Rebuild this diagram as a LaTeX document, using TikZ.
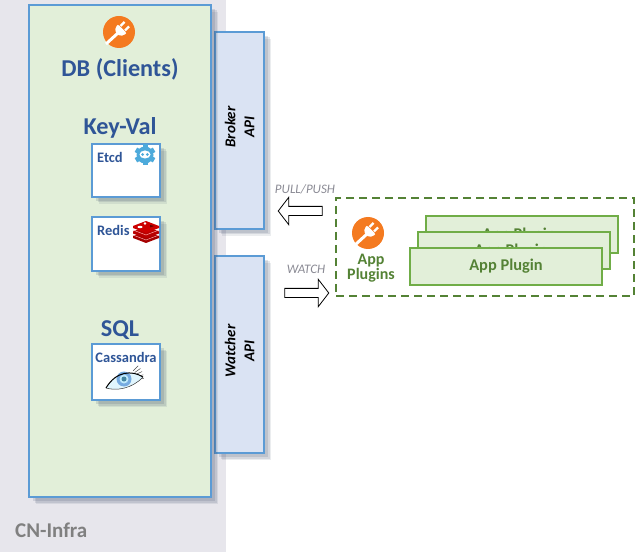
\documentclass[tikz,border=0pt]{standalone}
\usepackage{fontspec}
\setmainfont{Carlito}
\usetikzlibrary{shadows,shapes.arrows}

\definecolor{panelGray}{HTML}{E7E6EC}
\definecolor{boxBlue}{HTML}{5B9BD5}
\definecolor{apiFill}{HTML}{DAE3F3}
\definecolor{dbFill}{HTML}{E2EFD9}
\definecolor{titleBlue}{HTML}{2F5597}
\definecolor{plugOrange}{HTML}{F47A20}
\definecolor{pluginGreen}{HTML}{70AD47}
\definecolor{pluginText}{HTML}{548235}
\definecolor{labelGray}{HTML}{8A8A94}
\definecolor{shadowTone}{HTML}{3A4A66}

\tikzset{
    softShadow/.style={
        drop shadow={shadow xshift=7pt, shadow yshift=-7pt, opacity=.10, fill=shadowTone},
        drop shadow={shadow xshift=5.5pt, shadow yshift=-5.5pt, opacity=.13, fill=shadowTone},
        drop shadow={shadow xshift=4pt, shadow yshift=-4pt, opacity=.15, fill=shadowTone}
    },
    dbBox/.style={draw=boxBlue, line width=2pt, fill=dbFill, anchor=north west, inner sep=0pt, outer sep=0pt, softShadow},
    apiBox/.style={draw=boxBlue, line width=2pt, fill=apiFill, anchor=north west, inner sep=0pt, outer sep=0pt,
        minimum width=49pt, minimum height=197pt, softShadow},
    storeBox/.style={draw=boxBlue, line width=2pt, fill=white, anchor=north west, inner sep=0pt, outer sep=0pt,
        minimum width=68pt, softShadow},
    pluginBox/.style={draw=pluginGreen, line width=2pt, fill=dbFill, anchor=north west, inner sep=0pt, outer sep=0pt,
        minimum width=192pt, minimum height=37pt},
    titleText/.style={text=titleBlue, font=\bfseries\fontsize{24.2}{26}\selectfont, inner sep=0pt},
    storeText/.style={text=titleBlue, font=\bfseries\fontsize{14.5}{16}\selectfont, inner sep=0pt},
    pluginText/.style={text=pluginText, font=\bfseries\fontsize{16.4}{18}\selectfont, inner sep=0pt},
    apiText/.style={rotate=90, align=center, font=\bfseries\itshape\fontsize{15}{19}\selectfont, inner sep=0pt},
    flowArrow/.style={single arrow, draw=black, fill=white, line width=.8pt, inner sep=4.2pt, outer sep=0pt,
        minimum width=26pt, minimum height=44pt, single arrow head extend=9pt, single arrow tip angle=105},
    flowText/.style={text=labelGray, font=\itshape\fontsize{13}{15}\selectfont, inner sep=0pt},
    pics/plugIcon/.style={code={
        \fill[plugOrange] (0,0) circle (16);
        \draw[white, line width=3pt] (-13,12) -- (-1,1);
        \fill[white, rounded corners=2pt] (8,1.5) -- (-1.5,-8) -- (-4.5,-1) -- (1,4.5) -- cycle;
        \draw[white, line width=2.2pt] (6,-1.5) -- (10,-5.5) (1.5,-6) -- (5.5,-10);
    }}
}

\begin{document}
\begin{tikzpicture}[x=1pt, y=-1pt]
\useasboundingbox (0,0) rectangle (635,556);

% --- Background panel ---
\fill[panelGray] (0,0) rectangle (226,552);
\node[text=black!50, font=\bfseries\fontsize{21}{23}\selectfont, inner sep=0pt, anchor=west] (infraLabel) at (15,530) {CN-Infra};

% --- API boxes first, the DB box overlaps their shadow side ---
\node[apiBox] (brokerApi) at (215,32) {};
\node[apiBox] (watcherApi) at (215,256) {};
\node[apiText] (brokerLabel) at (239.5,127) {Broker\\API};
\node[apiText] (watcherLabel) at (239.5,351) {Watcher\\API};

% --- DB box ---
\node[dbBox, minimum width=182pt, minimum height=492pt] (dbBox) at (29,5) {};
\pic at (119,32) {plugIcon};
\node[titleText] (dbTitle) at (120,69) {DB (Clients)};
\node[titleText] (keyVal) at (120,128) {Key-Val};
\node[titleText] (sqlTitle) at (120,330) {SQL};

% --- Stores ---
\node[storeBox, minimum height=53pt] (etcdBox) at (92,144) {};
\node[storeText, anchor=west] (etcdLabel) at (97,157) {Etcd};
\node[storeBox, minimum height=54pt] (redisBox) at (92,217) {};
\node[storeText, anchor=west] (redisLabel) at (97,230) {Redis};
\node[storeBox, minimum height=56pt] (cassandraBox) at (92,344) {};
\node[storeText] (cassandraLabel) at (126,357) {Cassandra};

% etcd icon
\begin{scope}[shift={(145,155)}]
    \foreach \a in {0,60,...,300}
        \fill[boxBlue!85!cyan, rotate=\a] (-2.5,-10.5) rectangle (2.5,-5);
    \fill[boxBlue!85!cyan] (0,0) circle (8.5);
    \fill[white] (0,-.5) ellipse (5.5 and 4);
    \fill[boxBlue!85!cyan] (-2.4,-.5) circle (1.5) (2.4,-.5) circle (1.5);
\end{scope}

% redis icon
\begin{scope}[shift={(146,232)}]
    \foreach \y/\c in {5/red!65!black, 0.5/red!72!black, -5/red!80!black} {
        \fill[\c] (-13,\y-1) -- (0,\y-6) -- (13,\y-1) -- (13,\y+1) -- (0,\y+6) -- (-13,\y+1) -- cycle;
    }
    \draw[red!35!white, line width=.5pt] (-13,3) -- (0,8) -- (13,3) (-13,-2) -- (0,3) -- (13,-2);
    \fill[white] (-1,-8.5) circle (1.4) (-6,-5) ellipse (2.5 and 1.2);
    \fill[red!40!black] (4,-7) -- (8.5,-6) -- (4,-4.5) -- cycle;
\end{scope}

% cassandra eye
\begin{scope}[shift={(124,380)}]
    \foreach \a in {-45,-35,...,-5}
        \draw[black!70, line width=.5pt] (\a:13) -- (\a:20);
    \fill[cyan!12!white] (-18,8) .. controls (-8,-9) and (8,-10) .. (19,-3) .. controls (8,9) and (-8,11) .. (-18,8) -- cycle;
    \fill[cyan!60!blue!55] (0,-1) circle (7.5);
    \fill[cyan!25!white] (0,-1) circle (4.5);
    \fill[cyan!60!black] (0,-1) circle (2.5);
    \draw[black, line width=1pt] (-18,8) .. controls (-8,-9) and (8,-10) .. (19,-3);
    \draw[black!80, line width=.5pt] (-18,8) .. controls (-8,11) and (8,9) .. (19,-3);
\end{scope}

% --- Arrows ---
\node[flowArrow, shape border rotate=180] (pullArrow) at (302,211) {};
\node[flowArrow] (watchArrow) at (305,293) {};
\node[flowText] (pullLabel) at (305,189) {PULL/PUSH};
\node[flowText] (watchLabel) at (306,269) {WATCH};

% --- Plugins ---
\node[draw=pluginText, line width=2pt, dash pattern=on 8pt off 5pt, anchor=north west, inner sep=0pt, outer sep=0pt,
    minimum width=298pt, minimum height=98pt] (pluginArea) at (336,198) {};
\pic at (368,233) {plugIcon};
\node[align=center, text=pluginText, font=\bfseries\fontsize{16}{13}\selectfont, inner sep=0pt] (pluginsLabel) at (371,268) {App\\Plugins};

\node[pluginBox] (pluginBack) at (426,216) {};
\node[pluginText] (pluginBackText) at (519,235) {App Plugin};
\node[pluginBox] (pluginMid) at (418,232) {};
\node[pluginText] (pluginMidText) at (511,251) {App Plugin};
\node[pluginBox] (pluginFront) at (410,248) {};
\node[pluginText] (pluginFrontText) at (506,266) {App Plugin};

\end{tikzpicture}
\end{document}
